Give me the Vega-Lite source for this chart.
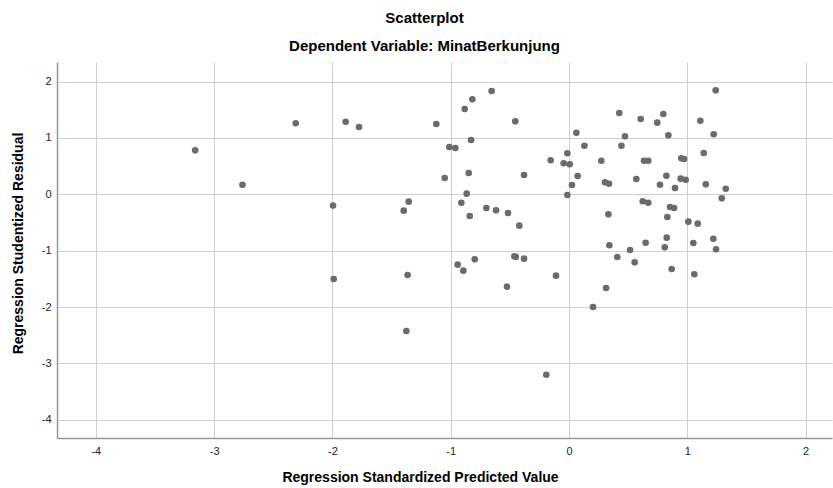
{
  "$schema": "https://vega.github.io/schema/vega-lite/v6.json",
  "width": 775,
  "height": 376,
  "autosize": {"type": "none"},
  "padding": {"left": 57, "top": 62, "right": 1, "bottom": 50},
  "background": "white",
  "config": {
    "font": "Liberation Sans",
    "view": {"stroke": null},
    "axis": {
      "grid": true,
      "gridColor": "#cfcfcf",
      "gridWidth": 1,
      "domainColor": "#999999",
      "domainWidth": 1.5,
      "ticks": false,
      "labelFont": "Liberation Sans",
      "labelFontSize": 11,
      "labelColor": "#222222",
      "labelExpr": "datum.value < 0 ? '-' + abs(datum.value) : '' + datum.value",
      "titleFont": "Liberation Sans",
      "titleFontSize": 14,
      "titleFontWeight": "bold",
      "titleColor": "#000000"
    }
  },
  "title": {
    "text": "Scatterplot",
    "subtitle": "Dependent Variable: MinatBerkunjung",
    "anchor": "middle",
    "dx": -20,
    "font": "Liberation Sans",
    "fontSize": 15,
    "fontWeight": "bold",
    "color": "#000000",
    "subtitleFont": "Liberation Sans",
    "subtitleFontSize": 15,
    "subtitleFontWeight": "bold",
    "subtitleColor": "#000000",
    "subtitlePadding": 13,
    "offset": 8
  },
  "data": {
    "values": [
      {"pred": -3.16, "resid": 0.78},
      {"pred": -2.76, "resid": 0.17},
      {"pred": -2.31, "resid": 1.26},
      {"pred": -1.888, "resid": 1.287},
      {"pred": -1.775, "resid": 1.193},
      {"pred": -1.995, "resid": -0.2},
      {"pred": -1.397, "resid": -0.29},
      {"pred": -1.355, "resid": -0.13},
      {"pred": -1.122, "resid": 1.246},
      {"pred": -1.051, "resid": 0.289},
      {"pred": -1.012, "resid": 0.839},
      {"pred": -0.961, "resid": 0.821},
      {"pred": -0.882, "resid": 1.512},
      {"pred": -0.817, "resid": 1.684},
      {"pred": -0.654, "resid": 1.832},
      {"pred": -0.828, "resid": 0.963},
      {"pred": -0.848, "resid": 0.378},
      {"pred": -0.865, "resid": 0.011},
      {"pred": -0.91, "resid": -0.149},
      {"pred": -0.839, "resid": -0.385},
      {"pred": -0.699, "resid": -0.243},
      {"pred": -0.617, "resid": -0.284},
      {"pred": -0.516, "resid": -0.332},
      {"pred": -0.42, "resid": -0.556},
      {"pred": -0.454, "resid": 1.294},
      {"pred": -0.38, "resid": 0.342},
      {"pred": -0.155, "resid": 0.603},
      {"pred": -0.045, "resid": 0.55},
      {"pred": 0.006, "resid": 0.532},
      {"pred": -0.014, "resid": 0.727},
      {"pred": 0.062, "resid": 1.092},
      {"pred": 0.073, "resid": 0.324},
      {"pred": 0.025, "resid": 0.165},
      {"pred": -0.014, "resid": -0.012},
      {"pred": -1.989, "resid": -1.502},
      {"pred": -1.364, "resid": -1.431},
      {"pred": -1.375, "resid": -2.424},
      {"pred": -0.941, "resid": -1.248},
      {"pred": -0.893, "resid": -1.354},
      {"pred": -0.797, "resid": -1.153},
      {"pred": -0.462, "resid": -1.099},
      {"pred": -0.45, "resid": -1.11},
      {"pred": -0.38, "resid": -1.141},
      {"pred": -0.524, "resid": -1.638},
      {"pred": -0.11, "resid": -1.443},
      {"pred": -0.192, "resid": -3.199},
      {"pred": 1.24, "resid": 1.844},
      {"pred": 0.425, "resid": 1.441},
      {"pred": 0.606, "resid": 1.335},
      {"pred": 0.797, "resid": 1.424},
      {"pred": 0.746, "resid": 1.27},
      {"pred": 1.11, "resid": 1.305},
      {"pred": 0.473, "resid": 1.028},
      {"pred": 0.84, "resid": 1.046},
      {"pred": 1.223, "resid": 1.064},
      {"pred": 0.13, "resid": 0.862},
      {"pred": 0.443, "resid": 0.862},
      {"pred": 0.273, "resid": 0.596},
      {"pred": 0.634, "resid": 0.596},
      {"pred": 0.67, "resid": 0.596},
      {"pred": 0.949, "resid": 0.638},
      {"pred": 0.972, "resid": 0.626},
      {"pred": 1.139, "resid": 0.732},
      {"pred": 0.304, "resid": 0.213},
      {"pred": 0.338, "resid": 0.188},
      {"pred": 0.569, "resid": 0.271},
      {"pred": 0.823, "resid": 0.33},
      {"pred": 0.769, "resid": 0.17},
      {"pred": 0.896, "resid": 0.112},
      {"pred": 0.944, "resid": 0.277},
      {"pred": 0.986, "resid": 0.259},
      {"pred": 1.156, "resid": 0.177},
      {"pred": 1.325, "resid": 0.099},
      {"pred": 1.291, "resid": -0.071},
      {"pred": 0.623, "resid": -0.124},
      {"pred": 0.67, "resid": -0.149},
      {"pred": 0.333, "resid": -0.355},
      {"pred": 0.854, "resid": -0.225},
      {"pred": 0.888, "resid": -0.243},
      {"pred": 0.831, "resid": -0.402},
      {"pred": 1.009, "resid": -0.485},
      {"pred": 1.088, "resid": -0.521},
      {"pred": 0.341, "resid": -0.904},
      {"pred": 0.516, "resid": -0.988},
      {"pred": 0.648, "resid": -0.858},
      {"pred": 0.826, "resid": -0.769},
      {"pred": 0.809, "resid": -0.94},
      {"pred": 1.051, "resid": -0.864},
      {"pred": 1.22, "resid": -0.787},
      {"pred": 1.243, "resid": -0.975},
      {"pred": 0.408, "resid": -1.112},
      {"pred": 0.555, "resid": -1.206},
      {"pred": 0.868, "resid": -1.324},
      {"pred": 1.059, "resid": -1.418},
      {"pred": 0.313, "resid": -1.661},
      {"pred": 0.203, "resid": -1.998}
    ]
  },
  "mark": {"type": "point", "filled": true, "size": 44, "color": "#6b6b6b", "opacity": 1},
  "encoding": {
    "x": {
      "field": "pred",
      "type": "quantitative",
      "scale": {"domain": [-4.328, 2.223], "nice": false, "zero": false},
      "axis": {
        "values": [-4, -3, -2, -1, 0, 1, 2],
        "title": "Regression Standardized Predicted Value",
        "labelPadding": 7,
        "titleX": 363,
        "titleY": 39,
        "titleBaseline": "middle",
        "titleAnchor": "middle"
      }
    },
    "y": {
      "field": "resid",
      "type": "quantitative",
      "scale": {"domain": [-4.321, 2.346], "nice": false, "zero": false},
      "axis": {
        "values": [-4, -3, -2, -1, 0, 1, 2],
        "title": "Regression Studentized Residual",
        "labelPadding": 6,
        "titleX": -39,
        "titleY": 181,
        "titleBaseline": "middle",
        "titleAnchor": "middle"
      }
    }
  }
}
